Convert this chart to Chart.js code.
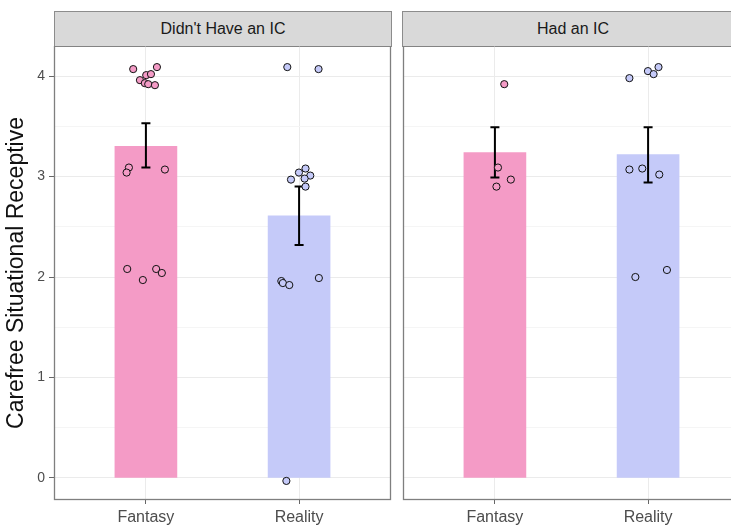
<!DOCTYPE html>
<html>
<head>
<meta charset="utf-8">
<script src="https://cdn.jsdelivr.net/npm/chart.js@4.4.1/dist/chart.umd.min.js"></script>
<style>
  html, body { margin: 0; padding: 0; background: #fff; overflow: hidden; }
  body { width: 731px; height: 529px; position: relative; font-family: "Liberation Sans", Arial, sans-serif; }
  .strip { position: absolute; top: 11px; height: 34px; background: #D9D9D9; border: 1px solid #8C8C8C;
           box-sizing: content-box; color: #1A1A1A; font-size: 16px; line-height: 34px; text-align: center; }
  canvas { position: absolute; top: 46px; }
</style>
</head>
<body>
<div class="strip" style="left:54px; width:336px;">Didn't Have an IC</div>
<div class="strip" style="left:402px; width:340px;">Had an IC</div>
<canvas id="panel1" width="392" height="483" style="left:0px;"></canvas>
<canvas id="panel2" width="338" height="483" style="left:402px;"></canvas>
<script>
'use strict';
let categories = ['Fantasy', 'Reality'];
let yTitle = 'Carefree Situational Receptive';

// bar means and error bar ends, [Fantasy, Reality]
let noIcMean = [3.30, 2.61];
let noIcLow = [3.09, 2.32];
let noIcHigh = [3.53, 2.90];
let icMean = [3.24, 3.22];
let icLow = [2.99, 2.94];
let icHigh = [3.49, 3.49];

// jittered raw points (x = category position + jitter)
let noIcFantasyX = [0.917, 1.072, 0.961, 1.002, 1.033, 0.993, 1.015, 1.059, 0.889, 0.874, 1.124, 0.878, 0.980, 1.067, 1.104];
let noIcFantasyY = [4.07, 4.09, 3.96, 4.01, 4.02, 3.93, 3.92, 3.91, 3.09, 3.04, 3.07, 2.08, 1.97, 2.08, 2.04];
let noIcRealityX = [1.923, 2.127, 2.042, 1.999, 2.073, 1.947, 2.036, 2.042, 1.884, 1.894, 1.936, 2.129, 1.917];
let noIcRealityY = [4.09, 4.07, 3.08, 3.04, 3.01, 2.97, 2.98, 2.90, 1.96, 1.94, 1.92, 1.99, -0.03];
let icFantasyX = [1.061, 1.020, 1.104, 1.010];
let icFantasyY = [3.92, 3.09, 2.97, 2.90];
let icRealityX = [1.878, 1.999, 2.036, 2.068, 1.878, 1.962, 2.073, 1.917, 2.123];
let icRealityY = [3.98, 4.05, 4.02, 4.09, 3.07, 3.08, 3.02, 2.00, 2.07];

let pink = '#F49BC6';
let blue = '#C5CAF9';

function toPoints(xs, ys) {
    let pts = [];
    for (let i = 0; i < xs.length; i++) {
        pts.push({ x: xs[i], y: ys[i] });
    }
    return pts;
}

// error bars drawn after the bars but before the points
let errorBars = {
    id: 'errorBars',
    beforeDatasetsDraw(chart) { chart.$errDone = false; },
    beforeDatasetDraw(chart, args, opts) {
        if (args.meta.type !== 'scatter' || chart.$errDone) return;
        chart.$errDone = true;
        let ctx = chart.ctx;
        let xs = chart.scales.x, ys = chart.scales.y;
        ctx.save();
        ctx.strokeStyle = '#000';
        ctx.lineWidth = 2;
        for (let i = 0; i < opts.low.length; i++) {
            let px = xs.getPixelForValue(i + 1);
            let lo = ys.getPixelForValue(opts.low[i]);
            let hi = ys.getPixelForValue(opts.high[i]);
            ctx.beginPath();
            ctx.moveTo(px, lo); ctx.lineTo(px, hi);
            ctx.moveTo(px - 4.5, lo); ctx.lineTo(px + 4.5, lo);
            ctx.moveTo(px - 4.5, hi); ctx.lineTo(px + 4.5, hi);
            ctx.stroke();
        }
        ctx.restore();
    }
};

let panelBorder = {
    id: 'panelBorder',
    afterDraw(chart) {
        let a = chart.chartArea;
        let ctx = chart.ctx;
        ctx.save();
        ctx.strokeStyle = '#7F7F7F';
        ctx.lineWidth = 1.3;
        ctx.strokeRect(a.left + 0.5, a.top, a.right - a.left - 1, a.bottom - a.top - 0.5);
        ctx.restore();
    }
};

function makePanel(id, means, low, high, fx, fy, rx, ry, withAxis) {
    let ctx = document.getElementById(id).getContext('2d');
    return new Chart(ctx, {
        type: 'bar',
        data: {
            datasets: [{
                type: 'scatter',
                data: toPoints(fx, fy),
                backgroundColor: pink,
                borderColor: '#111',
                borderWidth: 1,
                pointRadius: 3.6,
                order: 1
            }, {
                type: 'scatter',
                data: toPoints(rx, ry),
                backgroundColor: blue,
                borderColor: '#111',
                borderWidth: 1,
                pointRadius: 3.6,
                order: 1
            }, {
                type: 'bar',
                data: [{ x: 1, y: means[0] }, { x: 2, y: means[1] }],
                backgroundColor: [pink, blue],
                barThickness: 62,
                order: 2
            }]
        },
        options: {
            responsive: false,
            animation: false,
            layout: { autoPadding: false, padding: { left: withAxis ? 0 : 1, right: withAxis ? 1 : 0, top: 0, bottom: 0 } },
            plugins: {
                legend: { display: false },
                tooltip: { enabled: false },
                errorBars: { low: low, high: high }
            },
            scales: {
                x: {
                    type: 'linear',
                    offset: false,
                    min: 0.4,
                    max: 2.6,
                    ticks: {
                        stepSize: 1,
                        includeBounds: false,
                        color: '#4D4D4D',
                        font: { size: 16, family: '"Liberation Sans", Arial, sans-serif' },
                        padding: 4,
                        maxRotation: 0,
                        autoSkip: false,
                        callback: function (v) { return categories[v - 1] || ''; }
                    },
                    grid: { offset: false, color: '#EBEBEB', tickColor: '#666', tickLength: 4 },
                    border: { display: false },
                    afterFit: function (s) { s.height = 29; s.paddingLeft = 0; s.paddingRight = 0; }
                },
                y: {
                    min: -0.22,
                    max: 4.3,
                    ticks: {
                        display: withAxis,
                        stepSize: 0.5,
                        includeBounds: false,
                        color: '#4D4D4D',
                        font: { size: 14, family: '"Liberation Sans", Arial, sans-serif' },
                        padding: 4,
                        callback: function (v) { return Number.isInteger(v) ? String(v) : ''; }
                    },
                    grid: {
                        drawTicks: withAxis,
                        tickLength: 5,
                        color: function (c) { return Number.isInteger(c.tick.value) ? '#EBEBEB' : '#F5F5F5'; },
                        tickColor: function (c) { return Number.isInteger(c.tick.value) ? '#666' : 'rgba(0,0,0,0)'; }
                    },
                    border: { display: false },
                    title: {
                        display: withAxis,
                        text: yTitle,
                        color: '#111',
                        font: { size: 23, family: '"Liberation Sans", Arial, sans-serif' },
                        padding: { top: 3, bottom: 0 }
                    },
                    afterFit: function (s) { s.width = withAxis ? 54 : 0; s.paddingTop = 0; s.paddingBottom = 0; }
                }
            }
        },
        plugins: [errorBars, panelBorder]
    });
}

makePanel('panel1', noIcMean, noIcLow, noIcHigh, noIcFantasyX, noIcFantasyY, noIcRealityX, noIcRealityY, true);
makePanel('panel2', icMean, icLow, icHigh, icFantasyX, icFantasyY, icRealityX, icRealityY, false);
</script>
</body>
</html>
